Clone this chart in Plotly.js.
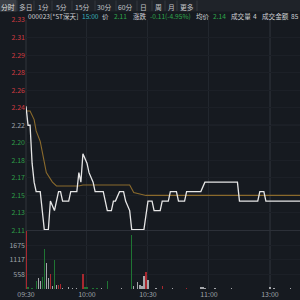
<!DOCTYPE html>
<html>
<head>
<meta charset="utf-8">
<script src="https://cdn.plot.ly/plotly-3.0.1.min.js"></script>
<style>
html,body{margin:0;padding:0;background:#161a20;}
#chart{width:300px;height:300px;}
</style>
</head>
<body>
<div id="chart"></div>
<script>
// ---- data (minutes after 09:30; 11:30 and 13:00 share minute 120) ----
var priceMinutes = [0,1,2,3,4,5,7,9,11,12,14,15,16,17,18,21,22,25,26,27,28,30,31,33,34,38,40,42,43,44,46,48,49,51,52,58,60,62,63,66,67,70,71,74,75,78,79,86,88,104,105,114,115,117,118,135];
var priceValues  = [2.24,2.22,2.22,2.18,2.16,2.15,2.15,2.11,2.11,2.14,2.13,2.14,2.15,2.15,2.14,2.14,2.15,2.15,2.17,2.16,2.19,2.18,2.17,2.16,2.15,2.15,2.13,2.13,2.14,2.14,2.15,2.15,2.14,2.13,2.11,2.11,2.14,2.14,2.13,2.13,2.14,2.14,2.15,2.15,2.14,2.14,2.15,2.15,2.16,2.16,2.14,2.14,2.15,2.15,2.14,2.14];

var avgMinutes = [0,2,4,5,7,8,10,13,15,26,28,51,53,57,59,135];
var avgValues  = [2.235,2.235,2.226,2.214,2.203,2.192,2.170,2.160,2.156,2.156,2.157,2.157,2.149,2.147,2.146,2.146];

var volMinutes = [0,1,3,5,6,7,8,9,10,11,12,13,14,15,16,17,18,21,23,25,28,29,30,33,35,37,40,47,52,53,55,56,57,58,59,60,64,67,72,79,86,87,88,93,101,120,122,130];
var volValues  = [2300,65,50,296,423,320,450,1538,1000,423,590,127,1104,165,165,190,50,60,30,30,590,70,80,40,40,30,300,30,2050,100,270,165,100,488,640,330,30,100,30,50,65,65,50,30,30,65,30,30];
var volDir     = ['u','d','d','d','f','f','d','d','f','f','u','f','d','f','u','u','f','f','f','f','u','d','d','d','d','f','d','f','d','f','f','f','f','f','u','f','f','u','f','u','f','f','f','f','f','f','f','f'];

var priceTickLabels = ['2.11','2.13','2.15','2.17','2.18','2.20','2.22','2.24','2.26','2.28','2.29','2.31','2.33'];
var volTickLabels = ['558','1117','1675'];
var timeTickLabels = ['09:30','10:00','10:30','11:00','13:00'];
var tabs = ['分时','多日','1分','5分','15分','30分','60分','日','周','月','更多'];
var infoTexts = ['000023[*ST深天]','15:00','价','2.11','涨跌','-0.11(-4.95%)','均价','2.14','成交量','4','成交金额','85'];

// ---- styling / layout helpers ----
var W = 300, H = 300, L = 26, T = 20, B = 11;
var PW = W - L, PH = H - T - B;
function px(x){ return (x - L) / PW; }
function py(y){ return (H - B - y) / PH; }
var priceBottom = py(230.5);
var preClose = 2.22, lo = 2.109, hi = 2.331, step = (hi - lo) / 12;

var priceTickVals = priceTickLabels.map(function(_, i){ return lo + i * step; });
var priceTickText = priceTickLabels.map(function(t){
  var v = parseFloat(t);
  var c = v > preClose ? '#cf3a40' : (v < preClose ? '#2e9e48' : '#9ea3aa');
  return '<span style="color:' + c + '">' + t + '</span>';
});
var dirColor = {u:'#a8282f', d:'#1f7533', f:'#a5a7ab'};

var FONT = 'Noto Sans CJK SC, Noto Sans, sans-serif';

var traces = [
  {x: volMinutes, y: volValues, type:'bar', xaxis:'x', yaxis:'y2', width:0.65,
   marker:{color: volDir.map(function(d){return dirColor[d];}), line:{width:0}}, hoverinfo:'skip'},
  {x: avgMinutes, y: avgValues, type:'scatter', mode:'lines', xaxis:'x', yaxis:'y',
   line:{color:'#8a6a2c', width:1.1}, hoverinfo:'skip'},
  {x: priceMinutes, y: priceValues, type:'scatter', mode:'lines', xaxis:'x', yaxis:'y',
   line:{color:'#e6e6e6', width:1.3}, hoverinfo:'skip'}
];

var annotations = [];
var tabCenters = [7.5,25.5,43,61.5,82.5,104.5,125.5,143.5,158.5,171.5,186.5];
tabs.forEach(function(t, i){
  annotations.push({text:t, xref:'paper', yref:'paper', x:px(tabCenters[i]), y:py(6.5),
    xanchor:'center', yanchor:'middle', showarrow:false,
    font:{family:FONT, size:6.8, color: i === 0 ? '#e0e0e0' : '#c4c6ca'}});
});
var infoX = [26,80,100,112,131,148,194,211,229,251,260,289];
var infoC = ['#cfd1d4','#39b3bd','#cfd1d4','#2ea84b','#cfd1d4','#2ea84b','#cfd1d4','#2ea84b','#cfd1d4','#cfd1d4','#cfd1d4','#cfd1d4'];
infoTexts.forEach(function(t, i){
  annotations.push({text:t, xref:'paper', yref:'paper', x:px(infoX[i]), y:py(15.5),
    xanchor:'left', yanchor:'middle', showarrow:false,
    font:{family:FONT, size:6.6, color:infoC[i]}});
});

var shapes = [
  {type:'rect', xref:'paper', yref:'paper', x0:px(0), x1:px(300), y0:py(0), y1:py(11.5), fillcolor:'#1f2329', line:{width:0}, layer:'below'},
  {type:'rect', xref:'paper', yref:'paper', x0:px(0), x1:px(16.5), y0:py(0), y1:py(11.5), fillcolor:'#3a3e45', line:{width:0}, layer:'below'},
  // price/volume separator, pre-close line, 13:00 line, left axis line
  {type:'line', xref:'paper', yref:'paper', x0:0, x1:1, y0:priceBottom, y1:priceBottom, line:{color:'#2c3038', width:1}},
  {type:'line', xref:'paper', yref:'y', x0:0, x1:1, y0:preClose, y1:preClose, line:{color:'#2e333b', width:1}, layer:'below'},
  {type:'line', xref:'x', yref:'paper', x0:120, x1:120, y0:0, y1:1, line:{color:'#363a42', width:1}, layer:'below'},
  {type:'line', xref:'paper', yref:'paper', x0:0, x1:0, y0:0, y1:1, line:{color:'#30343b', width:1}, layer:'below'}
];
var sepX = [17,34,52,72,95,116,137,152,165,177,197];
sepX.forEach(function(s){
  shapes.push({type:'line', xref:'paper', yref:'paper', x0:px(s), x1:px(s), y0:py(0.5), y1:py(11), line:{color:'#34383f', width:1}});
});

var layout = {
  width:W, height:H,
  margin:{l:L, r:0, t:T, b:B, pad:0},
  paper_bgcolor:'#161a20', plot_bgcolor:'#161a20',
  showlegend:false, bargap:0,
  font:{family:FONT, size:7, color:'#9ea3aa'},
  xaxis:{range:[0, PW/2.033], anchor:'y2', tickvals:[0,30,60,90,120], ticktext:timeTickLabels,
    showgrid:true, gridcolor:'#22272e', gridwidth:1, zeroline:false, showline:false, ticks:'',
    tickfont:{family:FONT, size:7, color:'#9ea3aa'}, fixedrange:true},
  yaxis:{domain:[priceBottom, 1], range:[lo, hi], tickvals:priceTickVals, ticktext:priceTickText,
    showgrid:true, gridcolor:'#1c2027', zeroline:false, showline:false, ticks:'',
    tickfont:{family:FONT, size:7}, anchor:'x', fixedrange:true},
  yaxis2:{domain:[0, priceBottom], range:[0, 2233], tickvals:[558,1117,1675], ticktext:volTickLabels,
    showgrid:true, gridcolor:'#1c2027', zeroline:false, showline:false, ticks:'',
    tickfont:{family:FONT, size:7, color:'#9ea3aa'}, anchor:'x', fixedrange:true},
  annotations:annotations,
  shapes:shapes
};

Plotly.newPlot('chart', traces, layout, {staticPlot:true, displayModeBar:false});
</script>
</body>
</html>
